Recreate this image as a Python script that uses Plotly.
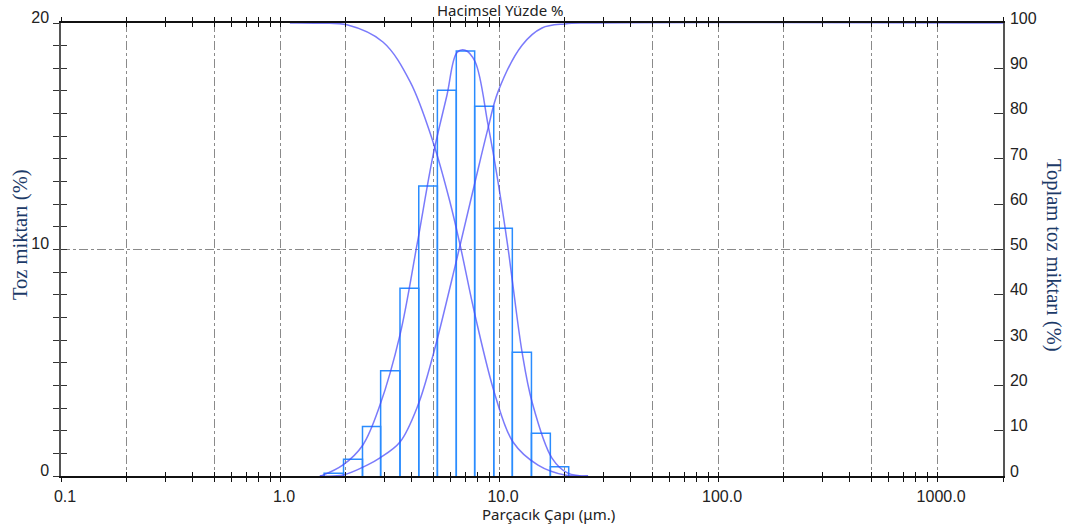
import math
import plotly.graph_objects as go

# ---------------- data ----------------
# histogram bins (particle size, µm) and volume percentage per bin (left axis)
bin_edges = [1.59, 1.95, 2.38, 2.88, 3.53, 4.30, 5.23, 6.38, 7.74, 9.46, 11.5, 14.06, 17.15, 20.8]
bin_pct = [0.12, 0.74, 2.19, 4.65, 8.29, 12.80, 17.03, 18.76, 16.32, 10.94, 5.46, 1.89, 0.41]

# smooth frequency curve (left axis)
dens_d = [1.52, 1.57, 1.94, 2.39, 2.86, 3.53, 4.22, 5.00, 5.78, 6.43, 7.00, 7.77,
          8.91, 9.89, 10.99, 11.46, 12.74, 14.15, 17.45, 20.6, 25.5]
dens_v = [0.0, 0.04, 0.49, 1.37, 3.13, 6.23, 10.2, 14.17, 16.8, 18.7, 18.8, 18.3,
          15.5, 13.0, 10.07, 8.74, 5.47, 3.27, 0.79, 0.13, 0.0]

# cumulative undersize curve (right axis, %)
rise_d = [1.52, 1.94, 2.50, 2.86, 3.53, 4.27, 5.00, 6.43, 7.77, 8.91, 9.89,
          12.74, 15.71, 20.0, 25.5, 2000]
rise_v = [0.0, 0.2, 2.4, 4.0, 7.5, 15.7, 26.7, 48.1, 64.9, 76.8, 84.8,
          95.1, 98.9, 99.8, 100.0, 100.0]

# cumulative oversize curve (right axis, %)
fall_d = [1.11, 1.5, 2.02, 2.95, 3.93, 5.00, 5.97, 6.64, 7.77, 9.59, 11.58, 15.07, 20.0, 25.5]
fall_v = [100.0, 99.95, 99.6, 95.8, 87.0, 73.7, 60.5, 51.0, 35.5, 17.9, 7.5, 2.4, 0.2, 0.0]

# axes
x_range = [0.1, 2000]
x_decades = [0.1, 1, 10, 100, 1000]
x_decade_text = ["0.1", "1.0", "10.0", "100.0", "1000.0"]
x_mults = [1, 2, 3, 4, 5, 6, 7, 8, 9]
x_grid = [0.2, 0.5, 1, 2, 5, 10, 20, 50, 100, 200, 500, 1000]
y_left_ticks = list(range(0, 21))
y_left_labeled = [0, 10, 20]
y_left_grid = [10]
y_right_ticks = list(range(0, 101, 10))

# ---------------- build ----------------
x_tick_vals = []
x_tick_text = []
for dec, lab in zip(x_decades, x_decade_text):
    for m in x_mults:
        v = dec * m
        if v <= x_range[1] * 1.0001:
            x_tick_vals.append(v)
            x_tick_text.append(lab if m == 1 else "")

y_tick_text = [str(v) if v in y_left_labeled else "" for v in y_left_ticks]

bx, by = [], []
for i, h in enumerate(bin_pct):
    e0, e1 = bin_edges[i], bin_edges[i + 1]
    bx += [e0, e0, e1, e1, None]
    by += [0, h, h, 0, None]

BAR = "#2a8cff"
CURVE = "rgba(70,70,250,0.72)"
GRID = "#8a8a8a"
TICKFONT = dict(family="Liberation Sans, Arial, sans-serif", size=16, color="#222222")
AXTITLE = dict(family="Liberation Serif, Times New Roman, serif", size=20.5, color="#1c3a68")
SANS = dict(family="Noto Sans, Open Sans, sans-serif", size=15, color="#222222")

fig = go.Figure()

fig.add_trace(go.Scatter(x=bx, y=by, mode="lines", line=dict(color=BAR, width=1.5),
                         xaxis="x", yaxis="y", hoverinfo="skip", showlegend=False))
fig.add_trace(go.Scatter(x=dens_d, y=dens_v, mode="lines",
                         line=dict(color=CURVE, width=1.5, shape="spline", smoothing=1.0),
                         xaxis="x", yaxis="y", showlegend=False))
fig.add_trace(go.Scatter(x=rise_d, y=rise_v, mode="lines",
                         line=dict(color=CURVE, width=1.5, shape="spline", smoothing=1.0),
                         xaxis="x", yaxis="y2", showlegend=False))
fig.add_trace(go.Scatter(x=fall_d, y=fall_v, mode="lines",
                         line=dict(color=CURVE, width=1.5, shape="spline", smoothing=1.0),
                         xaxis="x", yaxis="y2", showlegend=False))

# invisible anchor traces for the helper (overlay) axes
for xa, ya in [("x2", "y"), ("x3", "y"), ("x", "y3"), ("x", "y4")]:
    fig.add_trace(go.Scatter(x=[bin_edges[0]], y=[0], mode="markers",
                             marker=dict(opacity=0), xaxis=xa, yaxis=ya,
                             hoverinfo="skip", showlegend=False))

lr = [math.log10(x_range[0]), math.log10(x_range[1])]

fig.update_layout(
    template="none",
    width=1074, height=528,
    margin=dict(l=61, r=71, t=23, b=52, autoexpand=False),
    paper_bgcolor="white", plot_bgcolor="white",
    xaxis=dict(type="log", range=lr, tickvals=x_tick_vals, ticktext=x_tick_text,
               ticks="outside", ticklen=4, tickcolor="#111", tickwidth=1,
               mirror="ticks", showline=True, linecolor="#111", linewidth=1.5,
               showgrid=False, zeroline=False, tickfont=TICKFONT, automargin=False,
               ticklabelshift=4, ticklabelstandoff=1, anchor="y"),
    xaxis2=dict(type="log", range=lr, overlaying="x", anchor="y", tickvals=x_tick_vals,
                ticks="inside", ticklen=4, tickcolor="#111", mirror="ticks", automargin=False,
                showticklabels=False, showline=False, showgrid=False, zeroline=False),
    xaxis3=dict(type="log", range=lr, overlaying="x", anchor="y", tickvals=x_grid,
                ticks="", showticklabels=False, showline=False, showgrid=True, automargin=False,
                gridcolor=GRID, griddash="dashdot", gridwidth=1, zeroline=False),
    yaxis=dict(range=[0, 20], tickvals=y_left_ticks, ticktext=y_tick_text,
               ticks="outside", ticklen=6, tickcolor="#333", showline=True,
               linecolor="#555", linewidth=1.5, showgrid=False, zeroline=False,
               tickfont=TICKFONT, ticklabelshift=-6, ticklabelstandoff=1, anchor="x",
               automargin=False),
    yaxis3=dict(range=[0, 20], overlaying="y", anchor="x", side="left",
                tickvals=y_left_ticks, ticks="inside", ticklen=6, tickcolor="#333",
                showticklabels=False, showline=False, showgrid=False, zeroline=False,
                automargin=False),
    yaxis4=dict(range=[0, 20], overlaying="y", anchor="x", side="left",
                tickvals=y_left_grid, ticks="", showticklabels=False, showline=False,
                showgrid=True, gridcolor=GRID, griddash="dashdot", gridwidth=1,
                zeroline=False, automargin=False),
    yaxis2=dict(range=[0, 100], overlaying="y", anchor="x", side="right",
                tickvals=y_right_ticks, ticks="inside", ticklen=9, tickcolor="#333",
                showline=True, linecolor="#555", linewidth=1.5, showgrid=False,
                zeroline=False, tickfont=TICKFONT, ticklabelshift=-5, ticklabelstandoff=2,
                automargin=False),
    showlegend=False,
    annotations=[
        dict(text="Hacimsel Yüzde %", xref="paper", yref="paper", x=0.466, y=1.0295,
             xanchor="center", yanchor="middle", showarrow=False, font=SANS, borderpad=0),
        dict(text="Parçacık Çapı (μm.)", xref="paper", yref="paper", x=0.517, y=-0.083,
             xanchor="center", yanchor="middle", showarrow=False, font=SANS, borderpad=0),
        dict(text="Toz miktarı (%)", xref="paper", yref="paper", x=-0.0435, y=0.532,
             xanchor="center", yanchor="middle", showarrow=False, textangle=-90, font=AXTITLE),
        dict(text="Toplam toz miktarı (%)", xref="paper", yref="paper", x=1.053, y=0.486,
             xanchor="center", yanchor="middle", showarrow=False, textangle=90, font=AXTITLE),
    ],
)

# remove the default page margin so the figure sits at the window's top-left corner
fig.write_html("out.html", config={"displayModeBar": False},
               post_script="document.body.style.margin='0';")
